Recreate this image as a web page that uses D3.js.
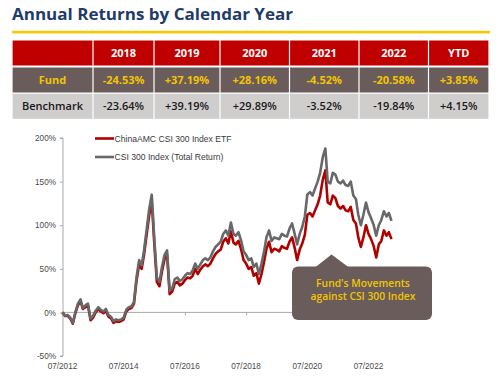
<!DOCTYPE html>
<html>
<head>
<meta charset="utf-8">
<script src="https://cdn.jsdelivr.net/npm/d3@7"></script>
<style>
  html, body { margin: 0; padding: 0; background: #fff; }
  svg { display: block; }
</style>
</head>
<body>
<svg id="chart" width="500" height="382"></svg>
<script>
// ---------------- DATA ----------------
const titleText = "Annual Returns by Calendar Year";
const tableYears = ["2018", "2019", "2020", "2021", "2022", "YTD"];
const rowLabels = ["Fund", "Benchmark"];
const fundReturns = ["-24.53%", "+37.19%", "+28.16%", "-4.52%", "-20.58%", "+3.85%"];
const benchReturns = ["-23.64%", "+39.19%", "+29.89%", "-3.52%", "-19.84%", "+4.15%"];

const seriesNames = ["ChinaAMC CSI 300 Index ETF", "CSI 300 Index (Total Return)"];
const startMonth = "2012-07";   // first observation; one value per month after it
// CSI 300 Index (Total Return), cumulative %
const benchSeries = [
  0, -4, -3, -6, -12, 0, 10, 15, 5, 8, 10, -7,
  -4, 2, 6, 3, 1, 4, -3, -5, -10, -8, -9, -8,
  -6, 3, 6, 7, 12, 40, 60, 54, 71, 95, 118, 135,
  86, 40, 35, 52, 66, 71, 25, 28, 38, 40, 36, 38,
  42, 45, 44, 48, 56, 50, 55, 60, 62, 60, 63, 70,
  75, 78, 81, 90, 94, 88, 103, 90, 88, 92, 83, 70,
  66, 60, 62, 52, 56, 44, 56, 70, 86, 94, 82, 86,
  85, 84, 90, 88, 87, 96, 102, 90, 78, 90, 98, 110,
  135, 138, 134, 142, 150, 160, 178, 188, 150, 148, 160, 158,
  150, 148, 151, 146, 145, 150, 134, 130, 112, 100, 112, 126,
  115, 108, 100, 88, 100, 106, 116, 110, 114, 105
];
// ChinaAMC CSI 300 Index ETF, cumulative %
const fundSeries = [
  0, -4, -4, -7, -13, -1, 8, 13, 4, 6, 8, -9,
  -6, 0, 4, 1, -1, 2, -5, -7, -12, -10, -11, -10,
  -8, 1, 4, 5, 10, 36, 55, 50, 66, 89, 111, 128,
  80, 35, 30, 47, 61, 66, 21, 24, 33, 35, 31, 33,
  37, 40, 39, 42, 50, 44, 49, 53, 55, 53, 56, 62,
  67, 70, 72, 81, 85, 79, 93, 80, 78, 82, 73, 60,
  56, 50, 52, 42, 45, 33, 44, 58, 73, 81, 69, 73,
  72, 70, 76, 74, 73, 81, 86, 74, 60, 72, 79, 89,
  112, 114, 110, 117, 124, 134, 152, 163, 126, 124, 134, 131,
  122, 119, 122, 117, 116, 121, 106, 102, 86, 75, 86, 100,
  90, 84, 76, 63, 78, 82, 94, 88, 92, 84
];
const yTicks = [-50, 0, 50, 100, 150, 200];
const xTickLabels = ["07/2012", "07/2014", "07/2016", "07/2018", "07/2020", "07/2022"];
const calloutLines = ["Fund's Movements", "against CSI 300 Index"];

// ---------------- DRAW ----------------
const svg = d3.select("#chart");
const parseMonth = d3.timeParse("%Y-%m");
const parseTick = d3.timeParse("%m/%Y");
const t0 = parseMonth(startMonth);
const dates = benchSeries.map((_, i) => d3.timeMonth.offset(t0, i));

const C = {
  navy: "#1f3b6b", gold: "#f2c500", red: "#c00000", brown: "#6b5c5c",
  light: "#d0cdcd", grey: "#686868", lineRed: "#b00000", axis: "#a9a9a9", label: "#4a4a4a"
};

// Title
svg.append("text")
  .attr("x", 12).attr("y", 19.5)
  .attr("font-family", "'Open Sans', sans-serif").attr("font-weight", 700)
  .attr("font-size", 16.5).attr("fill", C.navy)
  .attr("textLength", 281).attr("lengthAdjust", "spacingAndGlyphs")
  .text(titleText);
svg.append("rect").attr("x", 12).attr("y", 30.8).attr("width", 478).attr("height", 2.6).attr("fill", "#f5c800");

// Table
const colEdges = [12, 93, 154, 220, 289.5, 359, 428.5, 489];
const rowEdges = [[40.5, 65.5], [67.5, 92.5], [93.8, 118.8]];
const rowFill = [C.red, C.brown, C.light];
const rowTextFill = ["#fff", C.gold, "#1a1a1a"];
const tableRows = [["", ...tableYears], [rowLabels[0], ...fundReturns], [rowLabels[1], ...benchReturns]];
const xCol = d3.scaleOrdinal().domain(d3.range(colEdges.length - 1)).range(colEdges.slice(0, -1));
tableRows.forEach((row, r) => {
  const g = svg.append("g");
  row.forEach((cell, c) => {
    const x0 = xCol(c), x1 = colEdges[c + 1];
    const [y0, y1] = rowEdges[r];
    g.append("rect").attr("x", x0 + 0.6).attr("y", y0).attr("width", x1 - x0 - 1.2).attr("height", y1 - y0)
      .attr("fill", rowFill[r]);
    if (cell) {
      g.append("text").attr("x", (x0 + x1) / 2).attr("y", (y0 + y1) / 2 + 4)
        .attr("text-anchor", "middle")
        .attr("font-family", "'Open Sans', sans-serif").attr("font-weight", r === 2 ? 600 : 700)
        .attr("font-size", 11).attr("fill", rowTextFill[r])
        .text(cell);
    }
  });
});

// Chart scales
const x = d3.scaleTime().domain([parseTick("07/2012"), parseTick("07/2022")]).range([62.5, 368.5]);
const y = d3.scaleLinear().domain([-50, 200]).range([356, 138]);

// Y axis
const yAxis = svg.append("g").attr("transform", "translate(63,0)")
  .call(d3.axisLeft(y).tickValues(yTicks).tickSize(3).tickPadding(4).tickFormat(d => d + "%"));
yAxis.select(".domain").attr("stroke", C.axis).attr("d", `M-3,${y(-50)}H0V${y(200)}H-3`);
yAxis.selectAll(".tick line").attr("stroke", C.axis);
yAxis.selectAll(".tick text").attr("font-family", "'Liberation Sans', Arial, sans-serif")
  .attr("font-size", 8.2).attr("fill", C.label).attr("dy", "0.33em");

// X axis line at 0%
const xAxis = svg.append("g").attr("transform", `translate(0,${y(0)})`)
  .call(d3.axisBottom(x).tickValues(xTickLabels.map(parseTick)).tickSize(3).tickFormat(""));
xAxis.select(".domain").attr("stroke", C.axis).attr("d", `M63,0H398`);
xAxis.selectAll(".tick line").attr("stroke", C.axis);
// X tick labels at bottom
svg.append("g").selectAll("text").data(xTickLabels).join("text")
  .attr("x", d => x(parseTick(d))).attr("y", 369)
  .attr("text-anchor", "middle")
  .attr("font-family", "'Liberation Sans', Arial, sans-serif").attr("font-size", 8.2).attr("fill", C.label)
  .text(d => d);

// Lines
const line = d3.line().x((d, i) => x(dates[i])).y(d => y(d)).curve(d3.curveLinear);
svg.append("path").datum(fundSeries).attr("d", line)
  .attr("fill", "none").attr("stroke", C.lineRed).attr("stroke-width", 2.6).attr("stroke-linejoin", "round");
svg.append("path").datum(benchSeries).attr("d", line)
  .attr("fill", "none").attr("stroke", C.grey).attr("stroke-width", 2.6).attr("stroke-linejoin", "round");

// Legend
const legend = svg.append("g");
[C.lineRed, C.grey].forEach((col, i) => {
  const ly = 138.5 + i * 18.5;
  legend.append("line").attr("x1", 95).attr("x2", 114).attr("y1", ly).attr("y2", ly)
    .attr("stroke", col).attr("stroke-width", 2.6);
  legend.append("text").attr("x", 114.5).attr("y", ly + 3)
    .attr("font-family", "'Liberation Sans', Arial, sans-serif").attr("font-size", 8.6).attr("fill", "#3a3a3a")
    .text(seriesNames[i]);
});

// Callout
const cg = svg.append("g");
cg.append("rect").attr("x", 292).attr("y", 266.5).attr("width", 140).attr("height", 53.5).attr("rx", 6)
  .attr("fill", C.brown);
cg.append("path").attr("d", "M315,267.5L331.5,254.5L349,267.5Z").attr("fill", C.brown);
calloutLines.forEach((t, i) => {
  cg.append("text").attr("x", 363).attr("y", 287 + i * 12.6).attr("text-anchor", "middle")
    .attr("font-family", "'Open Sans', sans-serif").attr("font-weight", 600).attr("font-size", 10.3)
    .attr("fill", C.gold).text(t);
});
</script>
</body>
</html>
